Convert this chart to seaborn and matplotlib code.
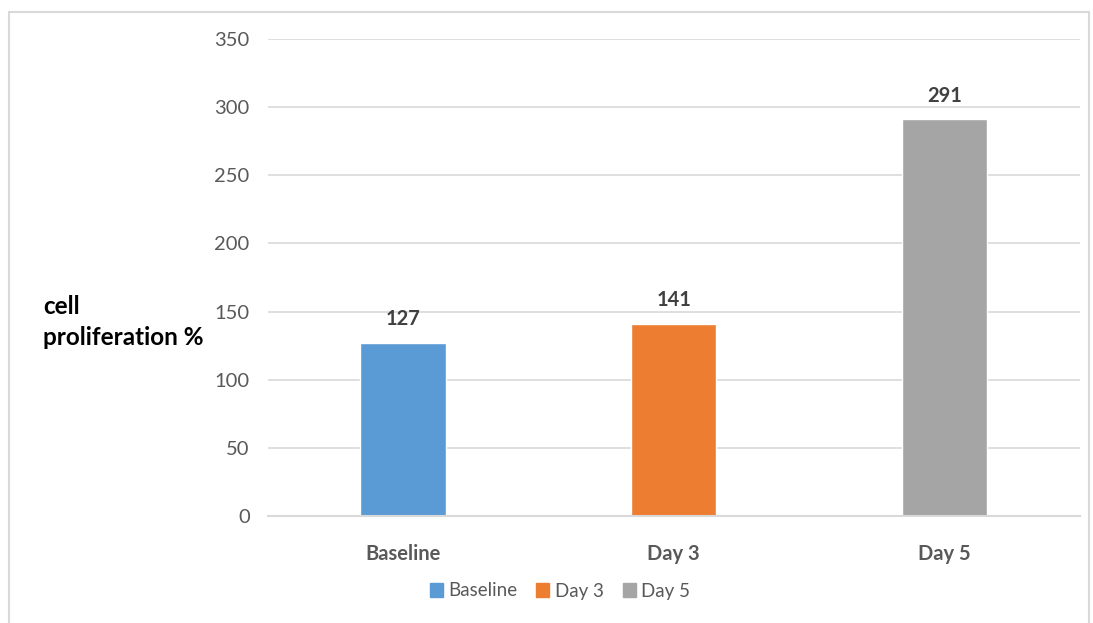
import pandas as pd
import matplotlib.pyplot as plt
import matplotlib.patches as mpatches
import seaborn as sns

# Данные
categories = ['Baseline', 'Day 3', 'Day 5']
values = [127, 141, 291]
colors = ['#5B9BD5', '#ED7D31', '#A5A5A5']

df = pd.DataFrame({'group': categories, 'value': values})

sns.set_style('white')
plt.rcParams['font.family'] = ['Lato', 'DejaVu Sans']

fig = plt.figure(figsize=(10.93, 6.23), dpi=100)
ax = fig.add_axes([0.245, 0.1717, 0.743, 0.7657])

# рамка вокруг рисунка
fig.patches.append(mpatches.Rectangle((9 / 1093, -0.05), 1080 / 1093, 1 - 12 / 623 + 0.05,
                                      transform=fig.transFigure, fill=False,
                                      edgecolor='#D9D9D9', linewidth=1.5))

sns.barplot(data=df, x='group', y='value', hue='group', palette=colors,
            width=0.315, legend=False, ax=ax, saturation=1)

for c in ax.containers:
    ax.bar_label(c, padding=10, fontsize=14.5, fontweight='bold', color='#404040')

ax.set_ylim(0, 350)
ax.set_yticks(range(0, 351, 50))
ax.yaxis.grid(True, color='#D9D9D9', linewidth=1.2)
ax.set_axisbelow(True)
for s in ['left', 'right', 'top']:
    ax.spines[s].set_visible(False)
ax.spines['bottom'].set_color('#D9D9D9')
ax.spines['bottom'].set_linewidth(1.5)
ax.tick_params(axis='both', length=0, colors='#595959', labelsize=14.5)
ax.tick_params(axis='y', pad=13)
ax.tick_params(axis='x', pad=20)
for lbl in ax.get_xticklabels():
    lbl.set_fontweight('bold')
ax.set_xlabel('')
ax.set_ylabel('')

fig.text(43 / 1093, 1 - 322 / 623, 'cell\nproliferation %', fontsize=17.5, fontweight='bold',
         color='black', ha='left', va='center', linespacing=1.45)

handles = [mpatches.Patch(color=col, label=cat) for cat, col in zip(categories, colors)]
leg = fig.legend(handles=handles, loc='center', bbox_to_anchor=(560 / 1093, 1 - 591 / 623),
                 ncol=3, frameon=False, fontsize=13.5, handlelength=0.7, handleheight=0.7,
                 handletextpad=0.3, columnspacing=1.0)
for t in leg.get_texts():
    t.set_color('#595959')

plt.savefig('out.png', dpi=100)
